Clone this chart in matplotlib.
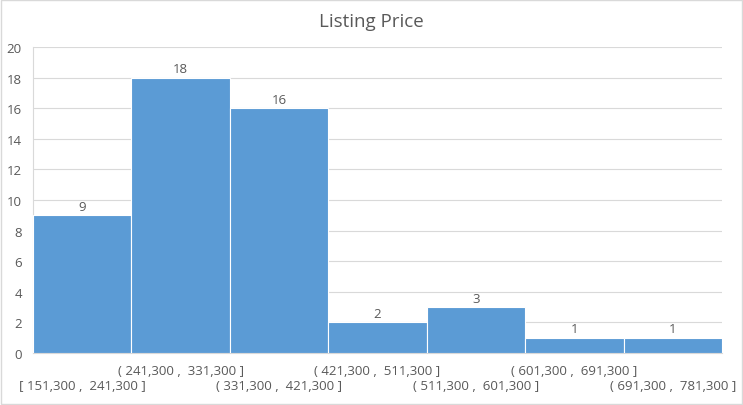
import matplotlib.pyplot as plt
from matplotlib.patches import Rectangle

# histogram bins and counts
bins = ['[ 151,300 ,  241,300 ]', '( 241,300 ,  331,300 ]', '( 331,300 ,  421,300 ]',
        '( 421,300 ,  511,300 ]', '( 511,300 ,  601,300 ]', '( 601,300 ,  691,300 ]',
        '( 691,300 ,  781,300 ]']
counts = [9, 18, 16, 2, 3, 1, 1]
yticks = [0, 2, 4, 6, 8, 10, 12, 14, 16, 18, 20]

plt.rcParams['font.family'] = ['Open Sans', 'DejaVu Sans']
text_color = '#595959'
grid_color = '#D9D9D9'
bar_color = '#5B9BD5'

fig = plt.figure(figsize=(7.43, 4.06), dpi=100)
fig.patches.append(Rectangle((0.001, 0.002), 0.997, 0.995, transform=fig.transFigure,
                             fill=False, edgecolor='#D9D9D9', linewidth=1))
ax = fig.add_axes([0.0444, 0.128, 0.9273, 0.754])

x = list(range(len(counts)))
bars = ax.bar(x, counts, width=1.0, color=bar_color, edgecolor='white', linewidth=0.8, zorder=3)
for xi, c in zip(x, counts):
    ax.text(xi, c + 0.15, str(c), ha='center', va='bottom', fontsize=9.5, color=text_color)

ax.set_xlim(-0.5, len(counts) - 0.5)
ax.set_ylim(0, 20)
ax.set_yticks(yticks)
ax.tick_params(axis='y', length=0, labelsize=9.5, labelcolor=text_color, pad=8)
ax.tick_params(axis='x', length=0)
ax.set_xticks([])
ax.grid(axis='y', color=grid_color, linewidth=0.8, zorder=0)
for side in ['top', 'right']:
    ax.spines[side].set_visible(False)
ax.spines['left'].set_color(grid_color)
ax.spines['bottom'].set_color(grid_color)

# staggered category labels
for xi, lab in zip(x, bins):
    yoff = -0.058 if xi % 2 == 1 else -0.105
    ax.text(xi, yoff, lab, transform=ax.get_xaxis_transform(), ha='center', va='center',
            fontsize=9.5, color=text_color)

fig.text(0.5, 0.945, 'Listing Price', ha='center', va='center', fontsize=13.5, color=text_color)

plt.savefig('out.png', dpi=100)
